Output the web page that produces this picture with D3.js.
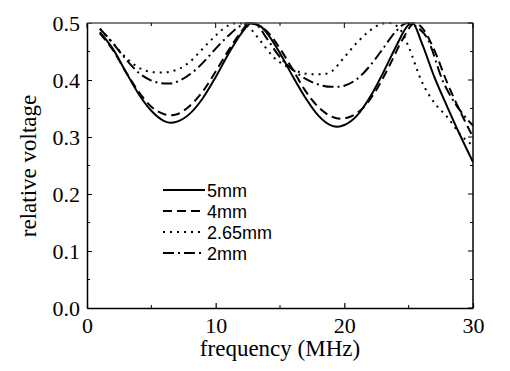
<!DOCTYPE html>
<html><head><meta charset="utf-8">
<script src="https://cdn.jsdelivr.net/npm/d3@7"></script>
<style>body{margin:0;background:#fff}</style>
</head><body>
<svg id="c" width="510" height="371"></svg>
<script>
const xTicks = [0, 10, 20, 30];
const yTicks = [0.0, 0.1, 0.2, 0.3, 0.4, 0.5];
const seriesNames = ["5mm", "4mm", "2.65mm", "2mm"];

const f5mm = [1,2,3,4,5,6,6.5,7,8,9,10,11,12,12.8,13.5,14,15,16,17,18,19,19.5,20,21,22,23,24,25,25.3,26,27,28,29,30];
const v5mm = [0.484,0.455,0.415,0.376,0.346,0.328,0.325,0.327,0.341,0.368,0.405,0.446,0.482,0.5,0.494,0.482,0.447,0.406,0.368,0.337,0.32,0.318,0.321,0.338,0.37,0.412,0.458,0.497,0.5,0.466,0.405,0.353,0.303,0.256];

const f4mm = [1,2,3,4,5,6,6.5,7,8,9,10,11,12,12.6,13.3,14,15,16,17,18,19,19.7,20.5,21.5,22.5,23.5,24.5,25.5,26.2,27,28,29,30];
const v4mm = [0.482,0.453,0.415,0.38,0.353,0.34,0.338,0.34,0.355,0.38,0.415,0.452,0.485,0.5,0.496,0.485,0.455,0.418,0.38,0.352,0.336,0.332,0.336,0.352,0.383,0.425,0.47,0.5,0.487,0.452,0.395,0.345,0.3];

const f265mm = [1,2,3,4,5,5.8,7,8,9,10,11,11.7,12.5,13.5,14.5,15.5,16.5,17.5,18.3,19,20,21,22,23,23.5,24.3,25,26,27,28,29,30];
const v265mm = [0.49,0.465,0.44,0.422,0.414,0.413,0.418,0.432,0.455,0.478,0.496,0.5,0.494,0.468,0.44,0.424,0.414,0.41,0.41,0.415,0.44,0.466,0.487,0.499,0.5,0.49,0.458,0.398,0.36,0.335,0.305,0.285];

const f2mm = [1,2,3,4,5,6,6.5,7,8,9,10,11,12,12.5,13.2,14,15,16,17,18,19,19.5,20,21,22,23,24,24.9,25.7,26.4,27.7,28.7,29.4,30];
const v2mm = [0.49,0.465,0.437,0.413,0.399,0.394,0.394,0.397,0.41,0.43,0.455,0.478,0.496,0.5,0.496,0.472,0.44,0.418,0.402,0.392,0.388,0.388,0.39,0.402,0.425,0.455,0.485,0.5,0.492,0.475,0.396,0.356,0.335,0.32];

const series = [
  {name: seriesNames[0], f: f5mm, v: v5mm, dash: null},
  {name: seriesNames[1], f: f4mm, v: v4mm, dash: "9,5"},
  {name: seriesNames[2], f: f265mm, v: v265mm, dash: "2,5"},
  {name: seriesNames[3], f: f2mm, v: v2mm, dash: "11,4,2,4"}
];

const L = 87, R = 473, T = 23, B = 308;
const svg = d3.select("#c");
const x = d3.scaleLinear().domain([0, 30]).range([L, R]);
const y = d3.scaleLinear().domain([0, 0.5]).range([B, T]);

svg.append("clipPath").attr("id","clp").append("rect")
  .attr("x", L).attr("y", T - 1).attr("width", R - L).attr("height", B - T + 1);

const line = d3.line().x(d => x(d[0])).y(d => y(d[1])).curve(d3.curveMonotoneX);
const g = svg.append("g").attr("clip-path","url(#clp)");
series.forEach(s => {
  g.append("path")
    .attr("d", line(s.f.map((f,i) => [f, s.v[i]])))
    .attr("fill","none").attr("stroke","#000").attr("stroke-width", 2)
    .attr("stroke-dasharray", s.dash);
});

// axes
const serif = "'Liberation Serif','Times New Roman',serif";
const ax = svg.append("g");
const xMinor = [5, 15, 25], yMinor = [0.05,0.15,0.25,0.35,0.45];
const bAxis = d3.axisBottom(x).tickValues(xTicks).tickSizeInner(-5).tickSizeOuter(0).tickPadding(9).tickFormat(d3.format("d"));
const bg = ax.append("g").attr("transform",`translate(0,${B})`).call(bAxis);
bg.selectAll("path").attr("stroke","#000").attr("stroke-width",1.5);
bg.selectAll("text").attr("font-family", serif).attr("font-size", 22).attr("fill","#000");
bg.selectAll(".tick line").attr("stroke-width",1.2);
xMinor.forEach(v => ax.append("line").attr("x1",x(v)).attr("x2",x(v)).attr("y1",B).attr("y2",B-3).attr("stroke","#000"));
const lAxis = d3.axisLeft(y).tickValues(yTicks).tickSizeInner(-5).tickSizeOuter(0).tickPadding(7).tickFormat(d3.format(".1f"));
const lg = ax.append("g").attr("transform",`translate(${L},0)`).call(lAxis);
lg.selectAll("path").attr("stroke","#000").attr("stroke-width",1.5);
lg.selectAll("text").attr("font-family", serif).attr("font-size", 22).attr("fill","#000");
yMinor.forEach(v => ax.append("line").attr("x1",L).attr("x2",L+3).attr("y1",y(v)).attr("y2",y(v)).attr("stroke","#000"));
ax.append("line").attr("x1",L).attr("x2",R).attr("y1",T).attr("y2",T).attr("stroke","#555").attr("stroke-width",1.5);
xTicks.concat(xMinor).forEach(v => ax.append("line").attr("x1",x(v)).attr("x2",x(v)).attr("y1",T).attr("y2",T+ (xTicks.includes(v)?5:3)).attr("stroke","#000"));
ax.append("line").attr("x1",R).attr("x2",R).attr("y1",T).attr("y2",B).attr("stroke","#000").attr("stroke-width",1.5);
yTicks.concat(yMinor).forEach(v => ax.append("line").attr("x1",R).attr("x2",R-(yTicks.includes(v)?5:3)).attr("y1",y(v)).attr("y2",y(v)).attr("stroke","#000"));

// labels
svg.append("text").attr("x", (L+R)/2).attr("y", 356).attr("text-anchor","middle")
  .attr("font-family", serif).attr("font-size", 23).text("frequency (MHz)");
svg.append("text").attr("transform","translate(36,166) rotate(-90)").attr("text-anchor","middle")
  .attr("font-family", serif).attr("font-size", 23).text("relative voltage");

// legend
const lgBase = [197, 218, 239, 260];
const leg = svg.append("g");
series.forEach((s,i) => {
  leg.append("line").attr("x1",163).attr("x2",205).attr("y1",lgBase[i]-7).attr("y2",lgBase[i]-7)
    .attr("stroke","#000").attr("stroke-width",2).attr("stroke-dasharray", s.dash);
  leg.append("text").attr("x",207).attr("y",lgBase[i])
    .attr("font-family","'Liberation Sans',Arial,sans-serif").attr("font-size",18).text(s.name);
});
</script>
</body></html>
